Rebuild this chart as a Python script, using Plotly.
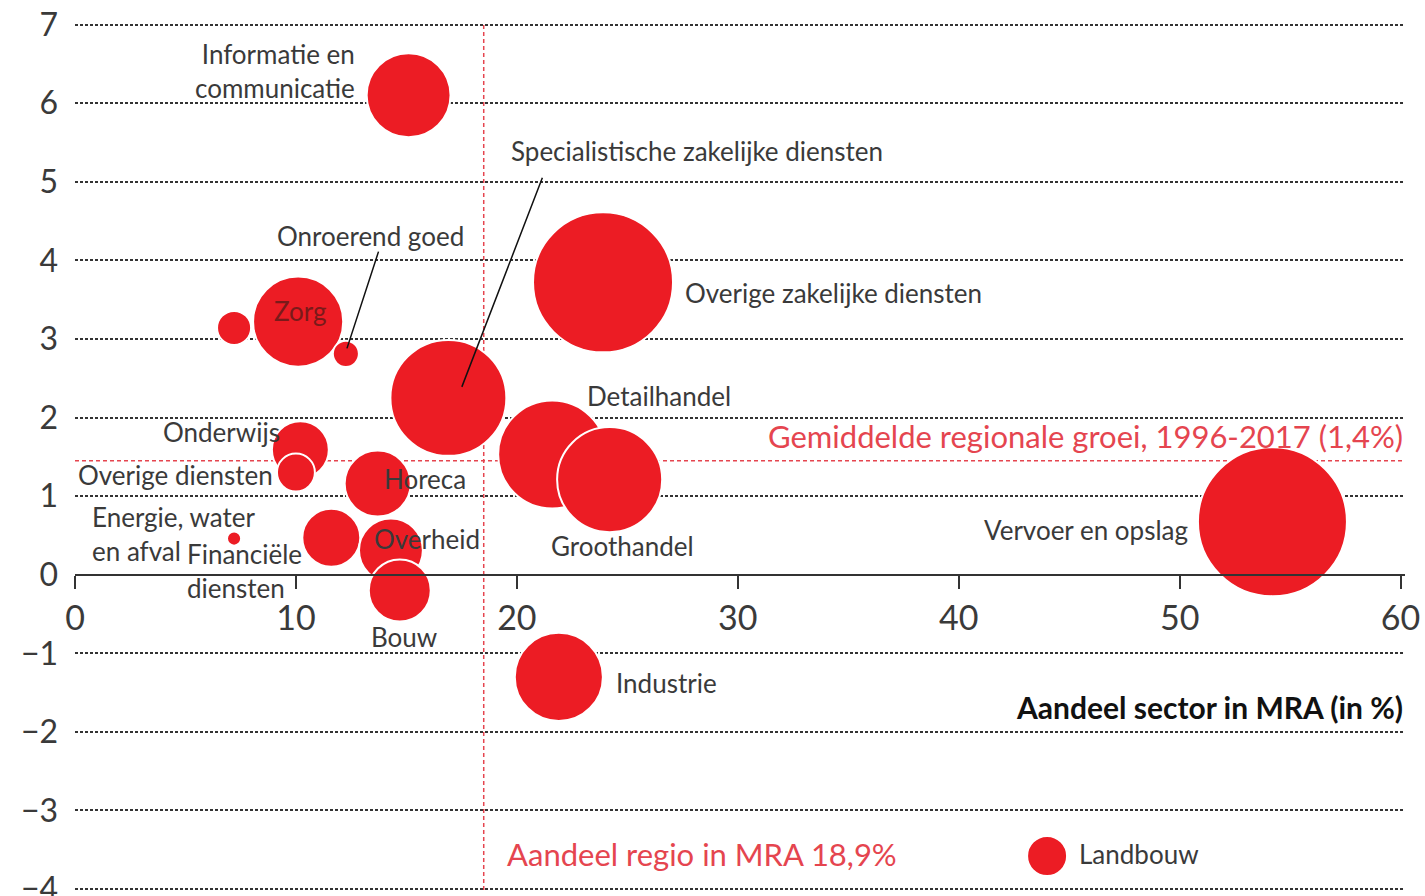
import plotly.graph_objects as go

# ---- data ----
sectoren = ["Detailhandel", "Groothandel", "Specialistische zakelijke diensten", "Overige zakelijke diensten",
            "Informatie en communicatie", "Zorg", "Cultuur, sport en recreatie", "Onroerend goed",
            "Onderwijs", "Overige diensten", "Horeca", "Energie, water en afval",
            "Financiële diensten", "Overheid", "Bouw", "Industrie", "Vervoer en opslag", "Landbouw"]
aandeel = [21.6, 24.2, 16.9, 23.9, 15.1, 10.1, 7.2, 12.26, 10.2, 10.0, 13.7, 7.2, 11.6, 14.3, 14.7, 21.9, 54.2, 44.0]
groei = [1.53, 1.21, 2.25, 3.72, 6.1, 3.22, 3.14, 2.81, 1.59, 1.30, 1.16, 0.46, 0.47, 0.31, -0.2, -1.3, 0.675, -3.58]
omvang = [29.2, 27.6, 33.6, 49.0, 17.6, 20.3, 2.9, 1.7, 8.1, 3.6, 10.9, 0.5, 8.4, 10.2, 9.6, 19.4, 55.5, 4.0]

gem_groei = 1.45          # Gemiddelde regionale groei (1,4%)
aandeel_regio = 18.5      # Aandeel regio in MRA (18,9%)
x_ticks = [0, 10, 20, 30, 40, 50, 60]
y_ticks = [-4, -3, -2, -1, 0, 1, 2, 3, 4, 5, 6, 7]

RED = "#EC1C24"
LINE_RED = "#E5454F"
TXT = "#3a3a3a"
FONT = "Lato"

fig = go.Figure()
fig.add_trace(go.Scatter(
    x=aandeel, y=groei, mode="markers", text=sectoren, hoverinfo="text",
    marker=dict(size=omvang, sizemode="area", sizeref=2 * max(omvang) / 149 ** 2,
                color=RED, opacity=1, line=dict(color="white", width=2)),
    cliponaxis=False, showlegend=False))

# reference lines
fig.add_shape(type="line", x0=aandeel_regio, x1=aandeel_regio, y0=-4.1, y1=7,
              line=dict(color=LINE_RED, width=1.5, dash="4px,3px"), layer="below")
fig.add_shape(type="line", x0=0, x1=60.2, y0=gem_groei, y1=gem_groei,
              line=dict(color=LINE_RED, width=1.5, dash="4px,3px"), layer="below")

# labels: (text, x, y, xanchor, align)
labels = [
    ("Informatie en<br>communicatie", 12.76, 6.41, "right", "right"),
    ("Specialistische zakelijke diensten", 19.64, 5.39, "left", "left"),
    ("Onroerend goed", 9.05, 4.31, "left", "left"),
    ("Cultuur, sport<br>en recreatie", -0.14, 3.44, "left", "left"),
    ("Zorg", 10.18, 3.36, "center", "center"),
    ("Overige zakelijke diensten", 27.51, 3.58, "left", "left"),
    ("Detailhandel", 23.08, 2.28, "left", "left"),
    ("Onderwijs", 9.37, 1.82, "right", "right"),
    ("Overige diensten", 9.05, 1.27, "right", "right"),
    ("Horeca", 13.89, 1.22, "left", "left"),
    ("Energie, water<br>en afval", 0.68, 0.52, "left", "left"),
    ("Financiële<br>diensten", 4.98, 0.05, "left", "left"),
    ("Overheid", 13.44, 0.46, "left", "left"),
    ("Groothandel", 21.45, 0.36, "left", "left"),
    ("Bouw", 14.89, -0.79, "center", "center"),
    ("Industrie", 24.39, -1.38, "left", "left"),
    ("Vervoer en opslag", 50.45, 0.57, "right", "right"),
    ("Landbouw", 45.34, -3.55, "left", "left"),
]
on_bubble = {"Zorg": "#7a1a1a"}
for t, x, y, xa, al in labels:
    fig.add_annotation(x=x, y=y, text=t, showarrow=False, xanchor=xa, yanchor="middle", align=al,
                       font=dict(family=FONT, size=26, color=on_bubble.get(t, TXT)))

# leader lines (label point -> bubble)
leaders = [(21.18, 5.07, 17.51, 2.39), (13.76, 4.13, 12.31, 2.88)]
for x0, y0, x1, y1 in leaders:
    fig.add_annotation(x=x1, y=y1, ax=x0, ay=y0, axref="x", ayref="y", xref="x", yref="y",
                       text="", showarrow=True, arrowhead=0, arrowwidth=1.5, arrowcolor="#111")

fig.add_annotation(x=60.18, y=1.76, text="Gemiddelde regionale groei, 1996-2017 (1,4%)", showarrow=False,
                   xanchor="right", yanchor="middle", font=dict(family=FONT, size=31, color=LINE_RED))
fig.add_annotation(x=19.46, y=-3.55, text="Aandeel regio in MRA 18,9%", showarrow=False,
                   xanchor="left", yanchor="middle", font=dict(family=FONT, size=31, color=LINE_RED))
fig.add_annotation(x=60.18, y=-1.68, text="<b>Aandeel sector in MRA (in %)</b>", showarrow=False,
                   xanchor="right", yanchor="middle", font=dict(family=FONT, size=30, color="#111"))

fig.update_layout(
    width=1425, height=896, margin=dict(l=75, r=20, t=1, b=3, autoexpand=False),
    paper_bgcolor="white", plot_bgcolor="white", font=dict(family=FONT, color=TXT),
    xaxis=dict(range=[0, 60.2], tickvals=x_ticks, showgrid=False, zeroline=False, automargin=False,
               anchor="free", position=(0 + 4.05) / 11.35, showline=True, linecolor="#333", linewidth=2,
               ticks="outside", ticklen=13, tickwidth=2, tickcolor="#333",
               tickfont=dict(family=FONT, size=34, color=TXT)),
    yaxis=dict(range=[-4.05, 7.3], tickvals=y_ticks, ticktext=[("−" + str(-v)) if v < 0 else str(v) for v in y_ticks],
               showgrid=True, gridcolor="#333", gridwidth=1.5, griddash="3px,2px", zeroline=False,
               showline=False, ticks="", ticklabelstandoff=16, ticklabeloverflow="allow", automargin=False,
               tickfont=dict(family=FONT, size=32, color=TXT)),
)

fig.write_html("out.html", config={"displayModeBar": False},
               post_script="document.body.style.margin='0';document.body.style.overflow='hidden';")
